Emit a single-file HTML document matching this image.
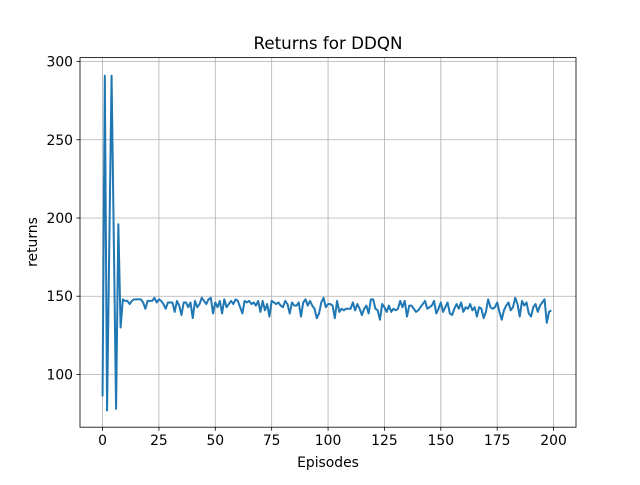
<!DOCTYPE html>
<html><head><meta charset="utf-8"><style>
body{margin:0;background:#fff;font-family:"Liberation Sans","DejaVu Sans",sans-serif}
svg text{font-family:"DejaVu Sans","Liberation Sans",sans-serif;fill:#000}
</style></head><body>
<svg id="chart" width="640" height="480" xmlns="http://www.w3.org/2000/svg">
<rect width="640" height="480" fill="#fff"/>
<g id="grid"></g>
<g id="ticks"></g>
<path id="line" fill="none" stroke="#1f77b4" stroke-width="2" stroke-linejoin="round"/>
<rect x="80" y="57.6" width="496" height="369.6" fill="none" stroke="#000" stroke-width="0.8"/>
<text x="328" y="49" text-anchor="middle" font-size="16.7">Returns for DDQN</text>
<text x="328" y="467" text-anchor="middle" font-size="13.9">Episodes</text>
<text transform="translate(37,242) rotate(-90)" text-anchor="middle" font-size="13.9">returns</text>
</svg>
<script>
const xTicks=[0,25,50,75,100,125,150,175,200];
const yTicks=[100,150,200,250,300];
const returns=[86,291,77,184,291,185,78,196,130,148,147,147,145,147,148,148,148,148,146,142,147,147,147,149,146,148,147,145,142,146,146,146,140,147,144,138,146,146,143,146,136,147,143,145,149,147,145,148,149,139,146,143,147,139,148,143,145,147,145,148,147,143,139,147,146,147,145,146,144,147,140,147,141,145,137,147,146,145,146,144,143,147,145,139,146,144,144,146,137,146,148,144,147,144,142,136,139,146,149,143,145,145,144,136,147,140,142,141,142,142,142,146,141,145,142,138,142,144,139,148,148,142,141,135,145,143,140,144,140,142,141,142,147,143,147,137,144,144,142,140,141,143,145,147,142,143,144,147,139,142,146,140,143,146,139,138,142,145,142,146,140,143,142,145,141,143,137,143,142,136,140,148,143,142,143,146,140,135,141,144,146,141,143,149,145,137,147,144,146,139,137,143,145,140,144,146,148,133,140,141];
const X0=80,X1=576,Y0=427.2,Y1=57.6;
const xMin=-10,xMax=209.95,yMin=66.3,yMax=302.5;
const sx=v=>X0+(v-xMin)/(xMax-xMin)*(X1-X0);
const sy=v=>Y0-(v-yMin)/(yMax-yMin)*(Y0-Y1);
const NS="http://www.w3.org/2000/svg";
const grid=document.getElementById('grid'),ticks=document.getElementById('ticks');
function mk(tag,attrs,parent){const e=document.createElementNS(NS,tag);for(const k in attrs)e.setAttribute(k,attrs[k]);parent.appendChild(e);return e;}
xTicks.forEach(t=>{const x=sx(t);
const g=mk('line',{x1:x,x2:x,y1:Y1,y2:Y0,stroke:'#b0b0b0','stroke-width':0.8},grid);


mk('line',{x1:x,x2:x,y1:Y0,y2:Y0+3.5,stroke:'#000','stroke-width':0.8},ticks);
const tx=mk('text',{x:x,y:Y0+18,'text-anchor':'middle','font-size':13.9},ticks);tx.textContent=t;

});
yTicks.forEach(t=>{const y=sy(t);
const g=mk('line',{x1:X0,x2:X1,y1:y,y2:y,stroke:'#b0b0b0','stroke-width':0.8},grid);


mk('line',{x1:X0-3.5,x2:X0,y1:y,y2:y,stroke:'#000','stroke-width':0.8},ticks);
const tx=mk('text',{x:X0-7,y:y+5,'text-anchor':'end','font-size':13.9},ticks);tx.textContent=t;

});
document.getElementById('line').setAttribute('d',returns.map((v,i)=>(i?'L':'M')+sx(i).toFixed(2)+','+sy(v).toFixed(2)).join(''));
</script>
</body></html>
